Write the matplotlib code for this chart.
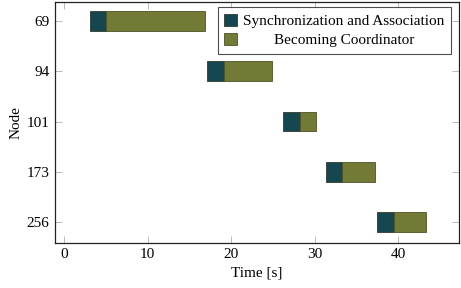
import numpy as np
import matplotlib.pyplot as plt

plt.rcParams['font.family'] = ['Liberation Serif', 'DejaVu Serif']

nodes = ['69', '94', '101', '173', '256']
start = [3.1, 17.1, 26.2, 31.3, 37.5]
sync = [1.95, 2.0, 2.0, 2.0, 1.95]
coord = [11.8, 5.8, 1.9, 3.9, 3.9]

c_sync = '#164650'
c_coord = '#737a35'

fig, ax = plt.subplots(figsize=(4.61, 2.88), dpi=100)
fig.subplots_adjust(left=0.1193, right=0.9963, top=0.994, bottom=0.157)

y = np.arange(len(nodes))
h = 0.39
ax.barh(y, sync, left=start, height=h, color=c_sync, edgecolor='#2e3a2e',
        linewidth=0.6, label='Synchronization and Association')
ax.barh(y, coord, left=np.array(start) + np.array(sync), height=h,
        color=c_coord, edgecolor='#4e5228', linewidth=0.6,
        label='        Becoming Coordinator')

ax.set_yticks(y)
ax.set_yticklabels(nodes)
ax.set_ylim(4.41, -0.38)
ax.set_xlim(-1.1, 47.3)
ax.set_xticks([0, 10, 20, 30, 40])

ax.tick_params(direction='in', length=5, width=0.6, color='#b0b0b0',
               labelsize=11, top=True, right=True, pad=4)
for s in ax.spines.values():
    s.set_linewidth(0.9)
    s.set_color('#222222')

ax.set_xlabel('Time [s]', fontsize=11, labelpad=4)
ax.set_ylabel('Node', fontsize=11, labelpad=3)

leg = ax.legend(loc='upper right', bbox_to_anchor=(0.9795, 0.979),
                fontsize=11, frameon=True, fancybox=False,
                edgecolor='#222222', handlelength=0.85, handleheight=0.85,
                handletextpad=0.35, borderpad=0.45, labelspacing=0.3,
                borderaxespad=0)
leg.get_frame().set_linewidth(0.8)

fig.savefig('out.png', dpi=100)
